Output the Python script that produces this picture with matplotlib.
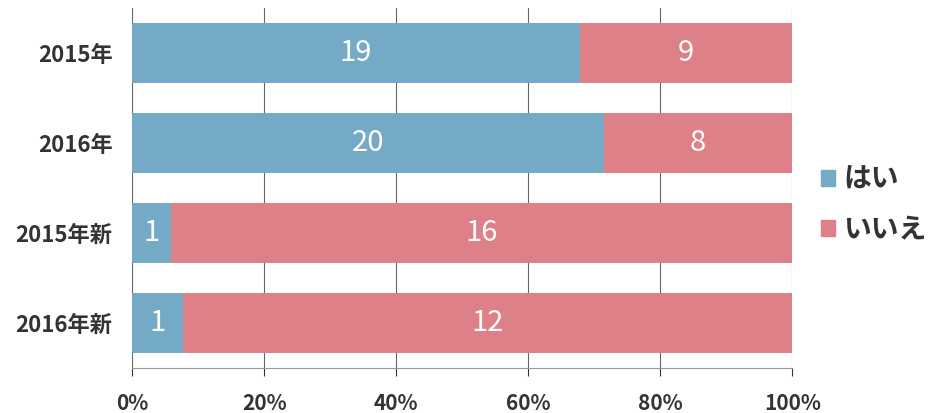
import numpy as np
import matplotlib
matplotlib.use('Agg')
import matplotlib.pyplot as plt
from matplotlib.patches import Patch
from matplotlib.ticker import PercentFormatter

plt.rcParams['font.family'] = ['Noto Sans CJK JP', 'DejaVu Sans']

# data
categories = ['2015年', '2016年', '2015年新', '2016年新']
yes_vals = [19, 20, 1, 1]
no_vals = [9, 8, 16, 12]
series_names = ['はい', 'いいえ']
colors = ['#74aac6', '#de8087']

yes = np.array(yes_vals, dtype=float)
no = np.array(no_vals, dtype=float)
total = yes + no
yes_pct = yes / total * 100
no_pct = no / total * 100

fig = plt.figure(figsize=(9.3, 4.13), dpi=100)
fig.patch.set_facecolor('white')
ax = fig.add_axes([0.142, 0.109, 0.710, 0.872])

y = np.arange(len(categories))
ax.barh(y, yes_pct, height=0.667, color=colors[0], zorder=2)
ax.barh(y, no_pct, left=yes_pct, height=0.667, color=colors[1], zorder=2)

# value labels centred in each segment
for i in range(len(categories)):
    ax.text(yes_pct[i] / 2, y[i], str(yes_vals[i]), ha='center', va='center',
            color='white', fontsize=21, zorder=3)
    ax.text(yes_pct[i] + no_pct[i] / 2, y[i], str(no_vals[i]), ha='center',
            va='center', color='white', fontsize=21, zorder=3)

ax.set_xlim(0, 100)
ax.set_ylim(len(categories) - 0.5, -0.5)
ax.set_yticks(y)
ax.set_yticklabels(categories, fontsize=16, fontweight='bold', color='#333333')
ax.set_xticks(np.arange(0, 101, 20))
ax.xaxis.set_major_formatter(PercentFormatter(decimals=0))
ax.tick_params(axis='x', labelsize=15, colors='#333333', length=6, pad=12)
ax.tick_params(axis='y', length=0, pad=14)
for lab in ax.get_xticklabels():
    lab.set_fontweight('bold')

ax.grid(axis='x', color='#666666', linewidth=0.8, zorder=1)
for side in ['top', 'right', 'left']:
    ax.spines[side].set_visible(False)
ax.spines['bottom'].set_color('#999999')

handles = [Patch(color=c) for c in colors]
fig.legend(handles, series_names, loc='center left', bbox_to_anchor=(0.883, 0.504),
           frameon=False, borderpad=0, borderaxespad=0,
           handlelength=0.5, handleheight=0.5, handletextpad=0.3,
           labelspacing=0.8, labelcolor='#333333',
           prop={'family': ['Noto Sans CJK JP', 'DejaVu Sans'],
                 'size': 20, 'weight': 'bold'})

fig.savefig('out.png', dpi=100)
